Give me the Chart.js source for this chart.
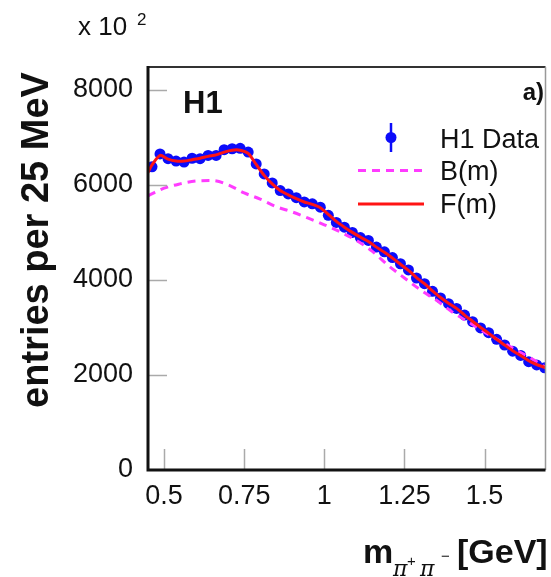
<!DOCTYPE html>
<html>
<head>
<meta charset="utf-8">
<script src="https://cdn.jsdelivr.net/npm/chart.js@4.4.0/dist/chart.umd.min.js"></script>
<style>
  html, body { margin: 0; padding: 0; background: #fff; }
  #wrap { width: 551px; height: 577px; }
</style>
</head>
<body>
<div id="wrap"><canvas id="chart"></canvas></div>
<script>
// pi+pi- invariant mass, 25 MeV bins (GeV)
const massBins = [0.4625, 0.4875, 0.5125, 0.5375, 0.5625, 0.5875, 0.6125, 0.6375, 0.6625, 0.6875,
                  0.7125, 0.7375, 0.7625, 0.7875, 0.8125, 0.8375, 0.8625, 0.8875, 0.9125, 0.9375,
                  0.9625, 0.9875, 1.0125, 1.0375, 1.0625, 1.0875, 1.1125, 1.1375, 1.1625, 1.1875,
                  1.2125, 1.2375, 1.2625, 1.2875, 1.3125, 1.3375, 1.3625, 1.3875, 1.4125, 1.4375,
                  1.4625, 1.4875, 1.5125, 1.5375, 1.5625, 1.5875, 1.6125, 1.6375, 1.6625, 1.6875];

// H1 data, entries per 25 MeV
const dataValues = [6380, 6650, 6550, 6500, 6480, 6560, 6550, 6620, 6620, 6740,
                    6760, 6770, 6690, 6440, 6230, 6040, 5880, 5810, 5730, 5640,
                    5600, 5530, 5360, 5210, 5110, 5000, 4890, 4830, 4690, 4590,
                    4470, 4340, 4210, 4040, 3920, 3760, 3620, 3500, 3400, 3260,
                    3120, 2990, 2890, 2750, 2630, 2500, 2410, 2280, 2210, 2150];

// F(m) full fit
const fitMass = [0.45, ...massBins, 1.69];
const fitValues = [6260,
                   6420, 6620, 6540, 6500, 6500, 6530, 6560, 6600, 6630, 6690,
                   6730, 6730, 6660, 6430, 6200, 6020, 5880, 5790, 5710, 5640,
                   5590, 5520, 5380, 5230, 5110, 5000, 4900, 4810, 4690, 4580,
                   4460, 4330, 4200, 4050, 3920, 3770, 3630, 3510, 3400, 3260,
                   3130, 3000, 2880, 2750, 2630, 2510, 2410, 2300, 2220, 2160,
                   2150];

// B(m) background
const bgMass = [0.45, 0.5, 0.55, 0.6, 0.65, 0.7, 0.75, 0.8, 0.85, 0.9, 0.95, 1.0, 1.05,
                1.1, 1.15, 1.2, 1.25, 1.3, 1.35, 1.4, 1.45, 1.5, 1.55, 1.6, 1.65, 1.69];
const bgValues = [5770, 5930, 6020, 6080, 6090, 6000, 5830, 5700, 5540, 5430, 5300, 5160, 5010,
                  4830, 4600, 4300, 4040, 3790, 3570, 3320, 3110, 2900, 2710, 2520, 2330, 2160];

const xTicks = [0.5, 0.75, 1, 1.25, 1.5];
const yTicks = [0, 2000, 4000, 6000, 8000];

const FONT = '"Liberation Sans", Arial, Helvetica, sans-serif';
const BLUE = 'rgb(12,12,250)';
const RED = 'rgb(255,20,20)';
const MAGENTA = 'rgb(255,60,255)';

function pairs(xs, ys) {
    return xs.map((x, i) => ({ x: x, y: ys[i] }));
}

// frame, inner ticks, labels and legend
const decorations = {
    id: 'decorations',
    afterDraw(chart) {
        const ctx = chart.ctx;
        const a = chart.chartArea;
        const xs = chart.scales.x;
        const ys = chart.scales.y;
        ctx.save();

        // inner tick marks
        ctx.strokeStyle = '#aaa';
        ctx.lineWidth = 1.5;
        xTicks.forEach(v => {
            const px = Math.round(xs.getPixelForValue(v)) + 0.5;
            ctx.beginPath();
            ctx.moveTo(px, a.bottom);
            ctx.lineTo(px, a.bottom - 21);
            ctx.stroke();
        });
        yTicks.slice(1).forEach(v => {
            const py = Math.round(ys.getPixelForValue(v)) + 0.5;
            ctx.beginPath();
            ctx.moveTo(a.left, py);
            ctx.lineTo(a.left + 19, py);
            ctx.stroke();
        });

        // frame
        ctx.strokeStyle = '#333';
        ctx.lineWidth = 2;
        ctx.beginPath();
        ctx.moveTo(a.left, a.top);
        ctx.lineTo(a.right, a.top);
        ctx.stroke();
        ctx.strokeStyle = '#999';
        ctx.lineWidth = 1.5;
        ctx.beginPath();
        ctx.moveTo(a.right, a.top);
        ctx.lineTo(a.right, a.bottom);
        ctx.stroke();
        ctx.strokeStyle = '#111';
        ctx.lineWidth = 3;
        ctx.beginPath();
        ctx.moveTo(a.left, a.top - 1);
        ctx.lineTo(a.left, a.bottom);
        ctx.lineTo(a.right, a.bottom);
        ctx.stroke();

        ctx.fillStyle = '#111';
        ctx.textBaseline = 'alphabetic';

        // exponent label
        ctx.textAlign = 'left';
        ctx.font = '26px ' + FONT;
        ctx.fillText('x 10', 78, 35);
        ctx.font = '17px ' + FONT;
        ctx.fillText('2', 137, 25);

        // H1 and panel tag
        ctx.font = 'bold 31px ' + FONT;
        ctx.fillText('H1', 183, 113);
        ctx.textAlign = 'right';
        ctx.font = 'bold 24px ' + FONT;
        ctx.fillText('a)', 544, 100);

        // legend
        ctx.textAlign = 'left';
        ctx.font = '27px ' + FONT;
        ctx.fillText('H1 Data', 440, 148);
        ctx.fillText('B(m)', 440, 180);
        ctx.fillText('F(m)', 440, 213);

        ctx.strokeStyle = BLUE;
        ctx.lineWidth = 2.5;
        ctx.beginPath();
        ctx.moveTo(391, 123);
        ctx.lineTo(391, 152);
        ctx.stroke();
        ctx.fillStyle = BLUE;
        ctx.beginPath();
        ctx.arc(391, 137.5, 5.5, 0, Math.PI * 2);
        ctx.fill();

        ctx.lineWidth = 3;
        ctx.strokeStyle = MAGENTA;
        ctx.setLineDash([8, 6]);
        ctx.beginPath();
        ctx.moveTo(358, 170.5);
        ctx.lineTo(424, 170.5);
        ctx.stroke();
        ctx.setLineDash([]);
        ctx.strokeStyle = RED;
        ctx.beginPath();
        ctx.moveTo(358, 204);
        ctx.lineTo(424, 204);
        ctx.stroke();

        // y axis title
        ctx.fillStyle = '#111';
        ctx.save();
        ctx.translate(48, 240);
        ctx.rotate(-Math.PI / 2);
        ctx.textAlign = 'center';
        ctx.font = 'bold 38px ' + FONT;
        ctx.fillText('entries per 25 MeV', 0, 0);
        ctx.restore();

        // x axis title
        ctx.textAlign = 'left';
        ctx.font = 'bold 34px ' + FONT;
        ctx.fillText('m', 363, 563);
        ctx.font = 'italic 22px "DejaVu Serif", "Liberation Serif", serif';
        ctx.fillText('\u03c0', 393, 576);
        ctx.fillText('\u03c0', 420, 576);
        ctx.font = '15px ' + FONT;
        ctx.fillText('+', 407, 566);
        ctx.fillText('\u2212', 441, 561);
        ctx.font = 'bold 34px ' + FONT;
        ctx.fillText('[GeV]', 457, 563);

        ctx.restore();
    }
};

const ctx = document.getElementById('chart');
new Chart(ctx, {
    type: 'line',
    data: {
        datasets: [
            {
                label: 'F(m)',
                data: pairs(fitMass, fitValues),
                borderColor: RED,
                borderWidth: 3,
                pointRadius: 0,
                tension: 0.25,
                fill: false
            },
            {
                label: 'B(m)',
                data: pairs(bgMass, bgValues),
                borderColor: MAGENTA,
                borderWidth: 3,
                borderDash: [8, 6],
                pointRadius: 0,
                cubicInterpolationMode: 'monotone',
                fill: false
            },
            {
                label: 'H1 Data',
                data: pairs(massBins, dataValues),
                showLine: false,
                pointRadius: 5.5,
                pointBackgroundColor: BLUE,
                pointBorderColor: BLUE,
                pointBorderWidth: 0,
                borderColor: BLUE
            }
        ]
    },
    options: {
        responsive: true,
        maintainAspectRatio: false,
        animation: false,
        devicePixelRatio: 1,
        layout: { padding: { top: 67, right: 3, left: 0, bottom: 0 } },
        plugins: {
            legend: { display: false },
            tooltip: { enabled: false }
        },
        scales: {
            x: {
                type: 'linear',
                min: 0.45,
                max: 1.69,
                afterBuildTicks: s => { s.ticks = xTicks.map(v => ({ value: v })); },
                afterFit: s => { s.height = 107; },
                grid: { display: false, drawTicks: false },
                border: { display: false },
                ticks: {
                    autoSkip: false,
                    maxRotation: 0,
                    padding: 10,
                    color: '#111',
                    font: { family: FONT, size: 27 },
                    callback: v => String(v)
                }
            },
            y: {
                type: 'linear',
                min: 0,
                max: 8480,
                afterBuildTicks: s => { s.ticks = yTicks.map(v => ({ value: v })); },
                afterFit: s => { s.width = 148; },
                grid: { display: false, drawTicks: false },
                border: { display: false },
                ticks: {
                    padding: 15,
                    color: '#111',
                    font: { family: FONT, size: 27 },
                    callback: v => String(v)
                }
            }
        }
    },
    plugins: [decorations]
});
</script>
</body>
</html>
